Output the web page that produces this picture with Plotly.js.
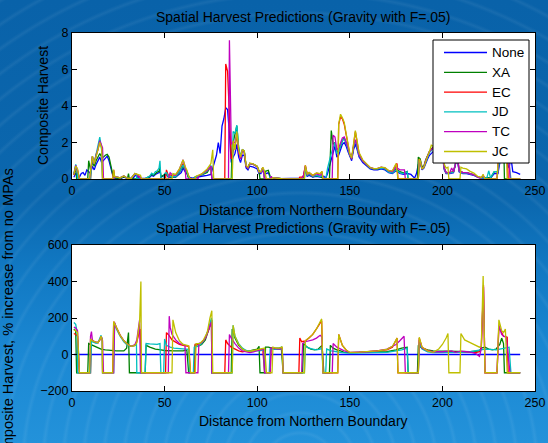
<!DOCTYPE html>
<html>
<head>
<meta charset="utf-8">
<script src="https://cdn.plot.ly/plotly-3.0.1.min.js"></script>
<style>
html,body{margin:0;padding:0;width:548px;height:443px;overflow:hidden;}
body{background:
 repeating-radial-gradient(circle at 300px 470px, rgba(255,255,255,0) 0px, rgba(255,255,255,0) 14px, rgba(255,255,255,0.06) 17px, rgba(255,255,255,0) 20px),
 linear-gradient(to bottom,#0962a9 0%,#0b67ae 45%,#1178c2 60%,#1b88d3 80%,#2392da 100%);}
#chart{width:548px;height:443px;}
</style>
</head>
<body>
<div id="chart"></div>
<script>
// ---------- data: [distance, value] ----------
const seriesNames = ["None","XA","EC","JD","TC","JC"];
const seriesColors = ["#0000ff","#008000","#ff0000","#00bfbf","#bf00bf","#bfbf00"];
const xTicks = [0,50,100,150,200,250];
const yTicksTop = [0,2,4,6,8];
const yTicksBottom = [-200,0,200,400,600];

const noneTop = [[1,0.1],[2,0.3],[3,0.2],[4,0.1],[5,0.3],[6,0.35],[7,0.2],[8,0.5],[9,0.4],[10,0.3],[11,0.7],[12,0.5],[13,0.8],[14,1.0],[15,1.2],[16,0.9],[17,1.0],[18,1.1],[19,1.25],[20,1.0],[21,0.6],[22,0.2],[23,0.05],[26,0.02],[28,0.1],[30,0.02],[33,0.03],[34,0.2],[35,0.15],[36,0.05],[40,0.03],[42,0.1],[43,0.2],[44,0.15],[45,0.25],[46,0.3],[47,0.35],[47.5,0.55],[48,0.1],[50,0.2],[51,0.25],[52,0.1],[53,0.12],[54,0.1],[56,0.1],[58,0.3],[59,0.35],[60,0.6],[61,0.4],[62,0.3],[63,0.1],[65,0.05],[67,0.1],[70,0.15],[73,0.2],[75,0.25],[76,0.6],[77,0.9],[78,1.3],[79,2.0],[80,1.4],[81,2.9],[82,3.3],[83,3.9],[84,3.8],[85,2.5],[86,0.9],[87,1.2],[88,1.4],[89,1.9],[90,1.2],[91,0.9],[92,1.3],[93,1.3],[94,0.6],[95,0.5],[96,0.7],[98,0.65],[100,0.55],[101,0.3],[102,0.3],[103,0.5],[104,0.3],[105,0.3],[106,0.35],[107,0.1],[108,0.05],[112,0.02],[118,0.02],[124,0.05],[125,0.1],[126,0.45],[127,0.15],[128,0.2],[130,0.1],[132,0.15],[134,0.1],[136,0.15],[137,0.05],[138,0.3],[139,0.7],[140,1.1],[141,1.5],[142,1.8],[143,1.2],[144,1.3],[145,1.6],[146,1.9],[147,2.0],[148,1.8],[149,1.5],[150,1.2],[151,1.0],[152,1.6],[153,1.9],[154,1.6],[155,1.2],[157,0.9],[159,0.75],[161,0.55],[163,0.5],[165,0.5],[167,0.55],[169,0.5],[171,0.35],[173,0.3],[175,0.45],[177,0.3],[179,0.25],[181,0.3],[183,0.25],[185,0.05],[186,0.3],[187,0.8],[188,0.9],[189,0.5],[190,0.6],[191,0.9],[192,1.1],[193,1.3],[195,1.5],[197,1.45],[199,1.4],[200,1.3],[201,0.5],[202,0.3],[204,0.3],[206,0.35],[207,0.7],[208,1.2],[209,0.4],[211,0.3],[213,0.3],[215,0.25],[217,0.2],[219,0.1],[221,0.05],[224,0.05],[226,0.05],[228,0.3],[230,0.3],[231,0.9],[233,1.4],[235,1.0],[236,0.6],[237,1.2],[238,0.4],[240,0.35],[242,0.25]];

const xaTop = [[1,0.25],[2,0.6],[2.5,0],[8.5,0],[9,1.0],[10,0.5],[11,0.9],[12,0.7],[13,1.0],[14,1.2],[15,1.4],[16,1.2],[17,1.2],[18,1.3],[19,1.35],[20,1.2],[21,0.75],[22,0.25],[23,0.06],[26,0.03],[28,0.12],[30,0.05],[30.5,0.3],[31,0],[39.5,0],[40,0.05],[42,0.14],[43,0.27],[44,0.2],[45,0.32],[46,0.38],[47,0.42],[47.5,0.62],[48,0.12],[50,0.24],[51,0.3],[52,0.12],[53,0.14],[54,0.12],[56,0.12],[58,0.36],[60,0.72],[61,0.48],[62,0.37],[63,0],[66,0],[66.5,0.12],[70,0.22],[73,0.36],[75,0.7],[75.5,0],[86,0],[86.5,1.9],[87,2.0],[88,2.4],[89,2.9],[90,1.7],[91,1.2],[92,1.6],[93,1.5],[94,0.7],[95,0.6],[96,0.85],[98,0.8],[100,0.7],[101,0.45],[101.5,0],[104,0],[104.5,0.42],[106,0.48],[107,0.14],[108,0.07],[112,0.03],[114,0],[124.5,0],[125,0.16],[126,0.6],[127,0.2],[128,0.26],[130,0.12],[132,0.18],[134,0.14],[136,0],[139,0],[139.5,1.5],[140,2.65],[141,1.9],[142,2.0],[143,1.5],[144,1.55],[145,1.8],[146,2.1],[147,2.25],[148,2.0],[149,1.7],[150,1.3],[151,1.1],[152,1.75],[153,2.1],[154,1.75],[155,1.3],[157,1.0],[159,0.82],[161,0.6],[163,0.55],[165,0.55],[167,0.6],[169,0.55],[171,0.4],[173,0.35],[175,0.55],[177,0.4],[179,0.33],[181,0.42],[181.5,0],[186.5,0],[187,1.2],[188,1.1],[189,0.65],[190,0.72],[191,1.05],[192,1.3],[193,1.5],[195,1.75],[197,1.7],[199,1.65],[200,1.5],[201,0.6],[202,0.35],[204,0.35],[206,0.4],[207,0.8],[208,1.4],[209,0.46],[211,0.35],[213,0.35],[215,0.29],[217,0.23],[219,0.12],[221,0.07],[224,0.07],[226,0.06],[228,0.4],[230,0.4],[231,1.4],[233,2.5],[233.5,0],[242,0]];

const ecTop = [[1,0.22],[2,0.65],[3,0.45],[4,0],[10,0],[10.5,0.55],[11,1.2],[12,0.85],[13,1.35],[14,1.6],[15,2.1],[16,1.75],[16.5,0],[22,0],[22.5,0.5],[23,0.13],[26,0.06],[28,0.17],[30,0.03],[32,0.04],[34,0.3],[35,0.25],[36,0.13],[37,0.1],[37.5,0],[50.5,0],[51,0.5],[52,0.2],[53,0.22],[54,0.18],[56,0.16],[58,0.45],[60,0.85],[61,0.6],[62,0.43],[63,0.15],[64,0],[66,0],[66.5,0.1],[70,0.25],[73,0.48],[75,0.7],[75.5,0],[82.5,0],[83,6.3],[84,5.9],[85,3.5],[86,1.1],[87,1.5],[88,1.8],[89,2.4],[90,1.5],[91,1.1],[92,1.6],[93,1.5],[94,0.7],[95,0.6],[96,0.85],[98,0.8],[100,0.68],[101,0.38],[102,0.38],[103,0.63],[104,0],[107,0],[107.5,0.14],[108,0.07],[112,0.03],[114,0],[122.5,0],[123,0.1],[124,0.1],[125,0.17],[126,0.75],[127,0.26],[128,0.35],[130,0.2],[132,0.32],[134,0.28],[135,0.4],[135.5,0],[143.5,0],[144,3.0],[145,3.4],[146,3.3],[147,3.0],[148,2.4],[149,1.8],[150,1.35],[151,1.1],[152,1.75],[153,2.6],[154,2.0],[155,1.4],[157,1.0],[159,0.83],[161,0.62],[163,0.56],[165,0.57],[167,0.64],[169,0.6],[171,0.44],[173,0.42],[175,0.8],[175.5,0.85],[176,0],[187,0],[187.5,1.1],[188,1.0],[189,0.55],[190,0.65],[191,1.0],[192,1.25],[193,1.5],[195,1.7],[197,1.68],[199,1.6],[200,1.5],[201,0.58],[202,0.34],[204,0.34],[206,0.4],[207,0.8],[208,1.4],[209,0.46],[211,0.35],[213,0.35],[215,0.29],[217,0.23],[219,0.11],[221,0.07],[222,0.2],[223,0],[229.5,0],[230,0.6],[231,2.2],[233,2.8],[235,2.1],[235.5,0],[242,0]];

const jdTop = [[1,0.27],[2,0.8],[2.8,0.5],[3,0],[10,0],[10.5,0.5],[11,1.25],[12,0.85],[13,1.35],[14,1.7],[15,2.3],[16,1.6],[16.5,0],[22.5,0],[23,0.13],[26,0.06],[28,0.17],[30,0.03],[32,0.04],[34,0.3],[34.8,0.25],[35,0],[39.5,0],[40,0.05],[42,0.16],[43,0.32],[44,0.24],[45,0.4],[46,0.45],[47,0.6],[47.5,1.0],[48,0],[49.5,0],[50,0.3],[51,0.35],[52,0.13],[53,0.16],[54,0.13],[56,0.13],[58,0.39],[60,0.78],[61,0.52],[62,0.4],[63,0.13],[63.5,0],[65.5,0],[66,0.07],[70,0.24],[73,0.44],[75,0.75],[75.5,0],[86.5,0],[87,2.6],[88,2.5],[89,2.95],[90,1.7],[91,1.2],[92,1.6],[93,1.55],[94,0.72],[95,0.6],[96,0.85],[98,0.8],[100,0.68],[101,0.37],[102,0.37],[103,0.6],[104,0],[106.5,0],[107,0.13],[108,0.07],[112,0.03],[114,0],[125.5,0],[126,0.6],[127,0.2],[128,0.26],[130,0.13],[132,0.2],[134,0.14],[135,0.2],[135.5,0],[137,0],[138,0.6],[139,1.1],[140,1.4],[141,1.7],[142,2.0],[143,1.4],[144,1.5],[145,1.8],[146,2.1],[147,2.2],[148,2.0],[149,1.65],[150,1.3],[151,1.1],[152,1.75],[153,2.1],[154,1.75],[155,1.3],[157,1.0],[159,0.82],[161,0.6],[163,0.55],[165,0.55],[167,0.6],[169,0.55],[171,0.38],[173,0.33],[175,0.5],[177,0.35],[179,0.3],[181,0.4],[181.5,0],[187,0],[187.5,0.95],[188,1.0],[189,0.55],[190,0.65],[191,0.95],[192,1.2],[193,1.45],[195,1.65],[197,1.6],[199,1.55],[200,1.45],[201,0.56],[202,0.33],[204,0.33],[206,0.38],[207,0.77],[208,1.3],[209,0.44],[211,0.33],[213,0.33],[215,0.28],[217,0.22],[219,0.11],[221,0.06],[224,0.06],[225,0.45],[226,0.07],[228,0.4],[230,0.4],[231,1.2],[233,1.8],[235,1.35],[236,0.85],[237,0],[242,0]];

const tcTop = [[1,0.25],[2,0.75],[3,0.5],[4,0],[9.5,0],[10,0.55],[11,1.25],[12,0.85],[13,1.35],[14,1.65],[15,2.1],[16,1.75],[16.5,1.7],[17,0],[22.5,0],[23,0.14],[26,0.06],[28,0.17],[30,0.03],[32,0.04],[34,0.3],[35,0.25],[36,0.14],[36.8,0.1],[37,0],[52,0],[52.5,0.2],[53,0.35],[54,0.25],[56,0.2],[58,0.55],[60,1.05],[61,0.7],[61.5,0],[68,0],[68.5,0.18],[70,0.27],[73,0.47],[75,0.7],[75.5,0],[84.5,0],[85,7.6],[86,1.9],[87,2.0],[88,2.0],[89,2.5],[90,1.5],[91,1.1],[92,1.6],[93,1.5],[94,0.7],[95,0.6],[96,0.85],[98,0.8],[100,0.68],[101,0.38],[102,0.38],[103,0.63],[104,0],[107,0],[107.5,0.14],[108,0.07],[112,0.03],[114,0],[124,0],[125,0.16],[126,0.7],[127,0.25],[128,0.3],[130,0.17],[132,0.28],[134,0.2],[135,0.3],[135.5,0],[140.5,0],[141,2.4],[142,2.3],[143,1.6],[144,1.7],[145,2.0],[146,2.25],[147,2.3],[148,2.05],[149,1.72],[150,1.33],[151,1.1],[152,1.75],[153,2.15],[154,1.8],[155,1.32],[157,1.0],[159,0.83],[161,0.62],[163,0.57],[165,0.58],[167,0.65],[169,0.6],[171,0.44],[173,0.4],[175,0.65],[177,0.5],[179,0.5],[179.5,0.5],[180,0],[187,0],[187.5,1.0],[188,1.0],[189,0.55],[190,0.68],[191,1.0],[192,1.25],[193,1.5],[195,1.7],[197,1.68],[199,1.62],[200,1.5],[201,0.58],[202,0.35],[204,0.35],[205,0.6],[206,0.4],[207,0.8],[208,1.4],[209,0.45],[211,0.35],[213,0.35],[215,0.29],[217,0.23],[219,0.11],[220,0.05],[221,0.07],[222,0.2],[223,0],[229.5,0],[230,0.6],[231,2.2],[233,2.6],[235,2.0],[236,1.2],[236.5,0],[242,0]];

const jcTop = [[1,0.24],[2,0.7],[3,0.55],[4,0],[9.5,0],[10,0.55],[11,1.25],[12,0.85],[13,1.3],[14,1.6],[15,2.0],[16,1.7],[16.5,0],[22,0],[22.5,0.5],[23,0.13],[26,0.06],[28,0.17],[30,0.03],[32,0.04],[34,0.3],[35,0.27],[36,0.2],[37,0.2],[37.5,0],[54,0],[54.5,0.3],[56,0.25],[58,0.55],[60,1.05],[61,0.7],[62,0.5],[63,0.17],[64,0],[66.5,0],[67,0.15],[70,0.28],[73,0.55],[75,0.85],[76,1.6],[76.5,0],[86.5,0],[87,2.1],[88,1.6],[89,2.6],[90,1.6],[91,1.2],[92,1.6],[93,1.55],[94,0.75],[95,0.65],[96,0.88],[98,0.82],[100,0.7],[101,0.4],[102,0.4],[103,0.65],[104,0.42],[105,0],[108,0],[108.5,0.07],[112,0.03],[114,0],[125.5,0],[126,0.75],[127,0.26],[128,0.36],[130,0.2],[132,0.33],[134,0.3],[135,0.42],[135.5,0],[143.5,0],[144,3.0],[145,3.55],[146,3.35],[147,3.1],[148,2.5],[149,1.85],[150,1.4],[151,1.15],[152,1.8],[153,2.65],[154,2.05],[155,1.45],[157,1.05],[159,0.85],[161,0.63],[163,0.57],[165,0.58],[167,0.65],[169,0.62],[171,0.46],[173,0.45],[175,0.85],[176,0],[187,0],[187.5,1.1],[188,1.0],[189,0.55],[190,0.65],[191,1.0],[192,1.25],[193,1.5],[194,1.85],[195,1.8],[197,1.75],[199,1.75],[200,1.75],[201,0.8],[202,0.6],[203,0.65],[203.5,0],[209.5,0],[210,0.65],[211,0.6],[213,0.55],[215,0.42],[217,0.32],[219,0.15],[221,0.08],[222,0.25],[223,0],[229.5,0],[230,0.7],[231,2.6],[233,3.0],[234,3.2],[235,0],[242,0]];

// percent increase from no MPAs
const nonePct = [[1,0],[242,0]];

const xaPct = [[1,140],[2,130],[2.5,-100],[8.5,-100],[9,60],[10,55],[12,45],[14,38],[15,32],[16,28],[18,25],[20,22],[24,20],[28,20],[29.5,35],[30.5,120],[31,-100],[39.5,-100],[40,50],[42,40],[45,30],[48,25],[50,22],[55,20],[60,20],[62,25],[63,-100],[66,-100],[66.5,50],[68,45],[70,55],[72,80],[74,150],[75.5,190],[75.6,-100],[86,-100],[86.5,140],[88,90],[90,50],[92,30],[94,20],[96,20],[98,25],[100,30],[101,45],[101.5,-100],[104,-100],[104.5,40],[106,40],[108,35],[110,35],[112,35],[113,40],[114,-100],[124.5,-100],[125,60],[127,40],[129,30],[131,25],[133,30],[135,50],[136,-100],[139,-100],[139.5,50],[141,35],[143,25],[145,20],[147,12],[150,10],[160,12],[170,15],[175,25],[178,35],[181,40],[181.5,-100],[186.5,-100],[187,50],[189,35],[192,25],[195,20],[200,18],[205,15],[210,15],[215,15],[220,20],[221,35],[223,40],[225,30],[227,25],[229,30],[231,55],[232,90],[233,60],[233.5,-100],[242,-100]];

const ecPct = [[1,115],[2,110],[3,100],[4,-100],[10,-100],[10.5,85],[11,75],[12,70],[13,68],[14,65],[15,80],[15.7,100],[16.3,80],[16.5,-100],[22,-100],[22.5,180],[24,145],[26,105],[28,75],[30,55],[32,45],[34,50],[35,70],[36.8,140],[37.5,-100],[50.5,-100],[51,120],[52,110],[54,80],[56,65],[58,55],[60,50],[62,45],[63,45],[64,-100],[66,-100],[66.5,55],[68,55],[70,65],[72,90],[74,140],[75.3,190],[75.5,-100],[82.5,-100],[83,80],[84,60],[86,40],[88,30],[90,20],[92,15],[94,18],[96,15],[98,20],[100,25],[102,28],[103,30],[104,-100],[107,-100],[107.5,35],[110,30],[112,30],[113.5,35],[114,-100],[122.5,-100],[123,90],[124,70],[126,75],[128,90],[130,110],[132,140],[134,170],[134.8,185],[135.5,-100],[143.5,-100],[144,110],[146,50],[148,25],[150,10],[155,12],[160,15],[165,18],[170,25],[173,40],[175,75],[175.5,90],[176,-100],[187,-100],[187.5,90],[189,40],[192,22],[195,15],[200,12],[205,12],[210,15],[215,12],[218,10],[220,15],[221,40],[222.2,380],[223,-100],[229.5,-100],[230.5,150],[232,120],[233,100],[235,95],[235.5,-100],[242,-100]];

const jdPct = [[1,175],[2,165],[2.8,120],[3,-100],[10,-100],[10.5,80],[11,70],[12,65],[13,62],[14,65],[15,85],[15.7,105],[16.3,80],[16.5,-100],[22.5,-100],[23,170],[24,140],[26,100],[28,70],[30,50],[32,45],[34,50],[34.8,60],[35,-100],[39.5,-100],[40,60],[42,58],[44,55],[46,55],[47.5,60],[48,-100],[49.5,-100],[50,85],[51,50],[53,40],[55,35],[58,32],[60,30],[63,28],[63.5,-100],[65.5,-100],[66,40],[68,45],[70,60],[72,90],[74,150],[75.3,200],[75.5,-100],[86.5,-100],[87,160],[88,100],[90,60],[92,35],[94,22],[96,18],[98,20],[100,20],[102,22],[103.5,25],[104,-100],[106.5,-100],[107,30],[110,28],[112,28],[113.5,30],[114,-100],[125.5,-100],[126,45],[128,35],[130,30],[132,25],[134,30],[135,35],[135.5,-100],[137,-100],[137.5,30],[140,20],[143,15],[146,10],[150,8],[160,8],[170,12],[175,20],[178,25],[181,35],[181.5,-100],[187,-100],[187.5,60],[189,30],[192,15],[195,10],[200,10],[205,10],[210,12],[215,15],[220,22],[223,30],[226,28],[229,25],[231,30],[233,35],[236,40],[237,-100],[242,-100]];

const tcPct = [[1,150],[2,145],[3,130],[4,-100],[9.5,-100],[10,100],[10.5,125],[11,80],[12,70],[13,68],[14,65],[15,80],[15.7,100],[16.3,85],[16.5,75],[17,-100],[22.5,-100],[23,175],[24,145],[26,105],[28,75],[30,55],[32,45],[34,55],[35,80],[36.5,190],[37,-100],[52,-100],[52.5,210],[53,150],[54,110],[56,80],[58,60],[60,55],[61,50],[61.5,-100],[68,-100],[68.5,60],[70,65],[72,90],[74,140],[75.3,180],[75.5,-100],[84.5,-100],[85,110],[86,90],[88,60],[90,35],[92,20],[94,15],[96,10],[98,15],[100,20],[102,25],[103.5,30],[104,-100],[107,-100],[107.5,35],[110,30],[112,30],[113.5,32],[114,-100],[124,-100],[124.5,60],[126,70],[128,75],[130,80],[132,90],[134,105],[135,95],[135.5,-100],[140.5,-100],[141,60],[143,40],[145,30],[147,20],[150,12],[155,12],[160,15],[165,20],[170,30],[173,45],[175,55],[177,75],[179.3,100],[180,-100],[187,-100],[187.5,80],[189,35],[192,20],[195,15],[200,15],[203,18],[205,20],[207,12],[210,18],[213,15],[216,12],[218,5],[220,-10],[221,30],[222.2,370],[223,-100],[229.5,-100],[230.5,160],[231.5,130],[232,110],[233,100],[234.5,95],[236.5,-100],[242,-100]];

const jcPct = [[1,135],[2,130],[3,120],[4,-100],[9.5,-100],[10,85],[11,75],[12,70],[13,68],[14,65],[15,80],[15.7,100],[16.3,80],[16.5,-100],[22,-100],[22.5,180],[24,145],[26,105],[28,75],[30,55],[32,45],[34,50],[35,65],[36.5,180],[37.2,400],[37.5,-100],[54,-100],[54.5,190],[56,120],[58,75],[60,55],[62,50],[63,48],[64,-100],[66.5,-100],[67,60],[69,60],[71,80],[73,120],[74.5,200],[75.5,240],[76,-100],[86.5,-100],[87,160],[88,100],[90,55],[92,30],[94,20],[96,18],[98,22],[100,25],[102,28],[104,35],[105,-100],[108,-100],[108.5,40],[110,35],[112,35],[113.5,40],[114,-100],[125.5,-100],[126,75],[128,90],[130,110],[132,140],[134,175],[134.8,195],[135.5,-100],[143.5,-100],[144,110],[146,50],[148,25],[150,12],[155,13],[160,16],[165,20],[170,28],[173,45],[175,80],[175.5,90],[176,-100],[187,-100],[187.5,95],[189,40],[192,20],[195,12],[198,30],[200,55],[202,90],[203,115],[203.5,-100],[209.5,-100],[210,115],[212,80],[215,65],[218,50],[220,40],[221,45],[222,430],[223,-100],[229.5,-100],[230.5,190],[232,130],[233,120],[234,140],[235,-100],[242,-100]];

const topSeries = [noneTop, xaTop, ecTop, jdTop, tcTop, jcTop];
const pctSeries = [nonePct, xaPct, ecPct, jdPct, tcPct, jcPct];

// ---------- figure ----------
const FONT = "Liberation Sans, Arial, sans-serif";
const W = 548, H = 443, ML = 72, MR = 13, MT = 33, MB = 52;
const PW = W - ML - MR, PH = H - MT - MB;
const px2x = px => (px - ML) / PW;           // page pixel -> paper x
const py2y = py => (H - MB - py) / PH;       // page pixel -> paper y

const traces = [];
topSeries.forEach((s, i) => {
  traces.push({x: s.map(p => p[0]), y: s.map(p => p[1]), type: "scatter", mode: "lines",
    name: seriesNames[i], line: {color: seriesColors[i], width: 1.3}, xaxis: "x", yaxis: "y",
    showlegend: false});
});
pctSeries.forEach((s, i) => {
  traces.push({x: s.map(p => p[0]), y: s.map(p => p[1]), type: "scatter", mode: "lines",
    name: seriesNames[i], line: {color: seriesColors[i], width: 1.3}, xaxis: "x2", yaxis: "y2",
    showlegend: false});
});

const axBase = {showgrid: false, zeroline: false, showline: true, linecolor: "#000", linewidth: 1,
  mirror: "ticks", ticks: "inside", ticklen: 5, tickcolor: "#000",
  tickfont: {family: FONT, size: 12.5, color: "#000"}};

const titleText = "Spatial Harvest Predictions (Gravity with F=.05)";
const xTitleText = "Distance from Northern Boundary";
const annFont = {family: FONT, size: 14, color: "#000"};

// legend box (MATLAB style, upper right of top axes)
const legBox = {x0: 433, x1: 529, y0: 40, y1: 163};
const shapes = [{type: "rect", xref: "paper", yref: "paper", x0: px2x(legBox.x0), x1: px2x(legBox.x1),
  y0: py2y(legBox.y1), y1: py2y(legBox.y0), fillcolor: "#ffffff", line: {color: "#000", width: 1}, layer: "above"}];
const annotations = [
  {text: titleText, xref: "paper", yref: "paper", x: 0.5, y: py2y(17), showarrow: false, font: annFont, xanchor: "center", yanchor: "middle"},
  {text: titleText, xref: "paper", yref: "paper", x: 0.5, y: py2y(228), showarrow: false, font: annFont, xanchor: "center", yanchor: "middle"},
  {text: xTitleText, xref: "paper", yref: "paper", x: 0.5, y: py2y(210), showarrow: false, font: annFont, xanchor: "center", yanchor: "middle"},
  {text: xTitleText, xref: "paper", yref: "paper", x: 0.5, y: py2y(421), showarrow: false, font: annFont, xanchor: "center", yanchor: "middle"},
  {text: "Composite Harvest", xref: "paper", yref: "paper", x: px2x(43), y: py2y(106), textangle: -90, showarrow: false, font: annFont, xanchor: "center", yanchor: "middle"},
  {text: "Composite Harvest, % increase from no MPAs", xref: "paper", yref: "paper", x: px2x(8), y: py2y(318), textangle: -90, showarrow: false, font: {family: FONT, size: 14.6, color: "#000"}, xanchor: "center", yanchor: "middle"}
];
seriesNames.forEach((nm, i) => {
  const rowY = 52.5 + i * 19.8;
  shapes.push({type: "line", xref: "paper", yref: "paper", x0: px2x(444), x1: px2x(487), y0: py2y(rowY), y1: py2y(rowY),
    line: {color: seriesColors[i], width: 1.3}, layer: "above"});
  annotations.push({text: nm, xref: "paper", yref: "paper", x: px2x(490), y: py2y(rowY), showarrow: false,
    font: {family: FONT, size: 13.5, color: "#000"}, xanchor: "left", yanchor: "middle"});
});

const layout = {
  width: W, height: H,
  margin: {l: ML, r: MR, t: MT, b: MB},
  paper_bgcolor: "rgba(0,0,0,0)", plot_bgcolor: "#ffffff",
  showlegend: false,
  xaxis: Object.assign({}, axBase, {domain: [0, 1], range: [0, 250], tickvals: xTicks, anchor: "y"}),
  yaxis: Object.assign({}, axBase, {domain: [py2y(179), 1], range: [0, 8], tickvals: yTicksTop, anchor: "x"}),
  xaxis2: Object.assign({}, axBase, {domain: [0, 1], range: [0, 250], tickvals: xTicks, anchor: "y2"}),
  yaxis2: Object.assign({}, axBase, {domain: [0, py2y(245)], range: [-200, 600], tickvals: yTicksBottom, anchor: "x2"}),
  shapes: shapes,
  annotations: annotations
};

Plotly.newPlot("chart", traces, layout, {displayModeBar: false, staticPlot: true});
</script>
</body>
</html>
